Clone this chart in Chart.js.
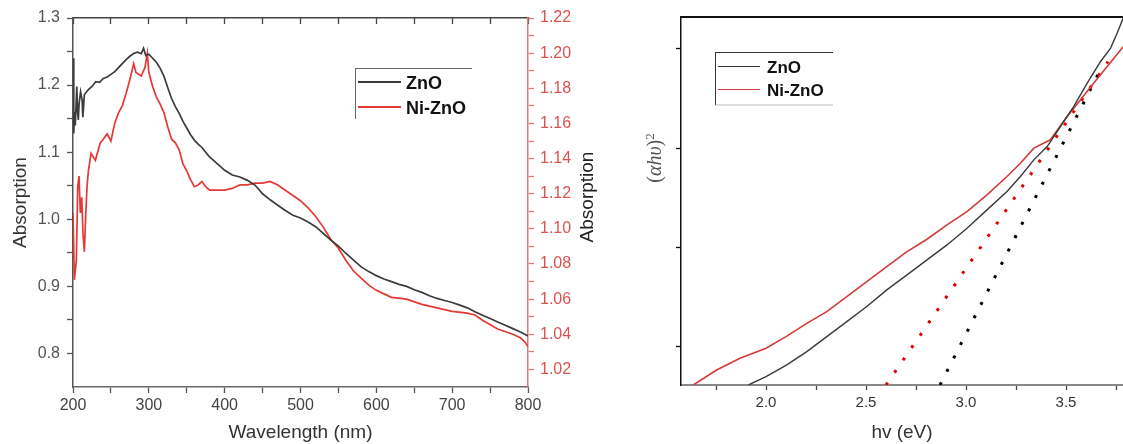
<!DOCTYPE html>
<html>
<head>
<meta charset="utf-8">
<script src="https://cdn.jsdelivr.net/npm/chart.js@4.4.1/dist/chart.umd.min.js"></script>
<style>
  html,body{margin:0;padding:0;background:#fff;width:1123px;height:444px;overflow:hidden;position:relative;font-family:'Liberation Sans',Arial,sans-serif;}
  canvas{position:absolute;top:0;}
  .ov{position:absolute;white-space:nowrap;}
  .leg{position:absolute;}
  .leg .ln{position:absolute;height:0;}
  .leg .tx{position:absolute;font-weight:bold;color:#111;transform:translateY(-50%);line-height:1;}
</style>
</head>
<body>
<canvas id="cL" width="600" height="444" style="left:0;width:600px;height:444px"></canvas>
<canvas id="cR" width="523" height="444" style="left:600px;width:523px;height:444px"></canvas>

<!-- legends -->
<div class="leg" style="left:355px;top:68px;width:116px;height:50px;border-top:1.5px solid #666;border-left:1.5px solid #666;">
  <div class="ln" style="left:2px;top:12px;width:43px;border-top:2px solid #3c3c3c"></div>
  <div class="tx" style="left:50px;top:14px;font-size:18px">ZnO</div>
  <div class="ln" style="left:2px;top:37px;width:43px;border-top:2px solid #e53935"></div>
  <div class="tx" style="left:50px;top:39px;font-size:18px">Ni-ZnO</div>
</div>
<div class="leg" style="left:715px;top:52px;width:117px;height:51px;border-top:1px solid #333;border-left:1px solid #333;border-bottom:2px solid #ddd;">
  <div class="ln" style="left:2px;top:13px;width:42px;border-top:1.3px solid #333"></div>
  <div class="tx" style="left:51px;top:14px;font-size:17px">ZnO</div>
  <div class="ln" style="left:2px;top:36px;width:42px;border-top:1.3px solid #d43a3a"></div>
  <div class="tx" style="left:51px;top:37px;font-size:17px">Ni-ZnO</div>
</div>

<div class="ov" style="left:587px;top:197px;font-size:19px;color:#222;transform:translate(-50%,-50%) rotate(-90deg);">Absorption</div>
<div class="ov" style="left:654px;top:158px;font-size:20px;color:#555;font-family:'Liberation Serif','DejaVu Serif',serif;transform:translate(-50%,-50%) rotate(-90deg);">(<i>αhυ</i>)<sup style="font-size:13px">2</sup></div>

<script>
// ---------- Left panel: absorption spectra ----------
const znoWl  = [200,201,202,203,205,206,207,208,210,212,213,215,218,220,225,230,235,240,245,250,255,260,265,270,275,280,285,290,293,296,300,305,310,315,320,325,330,335,340,345,350,355,360,365,370,375,380,385,390,395,400,410,420,430,440,450,460,470,480,490,500,510,520,530,540,550,560,570,580,590,600,610,620,630,640,650,660,670,680,690,700,710,720,730,740,750,760,770,780,790,800];
const znoAbs = [1.240,1.128,1.160,1.140,1.198,1.160,1.148,1.172,1.190,1.178,1.152,1.186,1.190,1.193,1.198,1.205,1.204,1.210,1.212,1.216,1.220,1.226,1.232,1.238,1.243,1.247,1.249,1.247,1.255,1.244,1.246,1.240,1.234,1.225,1.213,1.196,1.180,1.168,1.158,1.146,1.136,1.126,1.118,1.112,1.107,1.100,1.093,1.088,1.083,1.078,1.073,1.066,1.063,1.058,1.051,1.038,1.029,1.021,1.013,1.006,1.002,0.996,0.989,0.979,0.969,0.960,0.949,0.939,0.929,0.922,0.916,0.911,0.907,0.903,0.900,0.895,0.891,0.886,0.882,0.879,0.876,0.872,0.868,0.862,0.857,0.852,0.847,0.842,0.837,0.832,0.826];

const niWl  = [200,201.8,204.4,206.2,207.9,209.7,211.5,213.2,215,216.7,218.5,220.3,223.8,229.5,236,240,245,250,255,260,265,270,275,280,283,290,295,298,300,305,310,315,320,325,330,335,340,345,350,355,360,365,370,375,380,390,400,410,420,430,440,450,460,470,480,490,500,510,520,530,540,550,560,570,580,590,600,610,620,640,660,680,700,720,730,740,760,780,790,795,800];
const niAbs = [1.109,1.071,1.082,1.124,1.130,1.109,1.118,1.097,1.087,1.107,1.124,1.133,1.143,1.139,1.149,1.151,1.154,1.150,1.160,1.166,1.170,1.177,1.185,1.194,1.189,1.187,1.192,1.200,1.189,1.181,1.175,1.171,1.166,1.158,1.151,1.149,1.145,1.137,1.133,1.128,1.124,1.125,1.127,1.124,1.122,1.122,1.122,1.123,1.125,1.125,1.126,1.126,1.127,1.125,1.122,1.119,1.116,1.112,1.107,1.101,1.094,1.089,1.082,1.076,1.072,1.068,1.065,1.063,1.061,1.060,1.057,1.055,1.053,1.052,1.051,1.048,1.043,1.040,1.038,1.036,1.033];

const wlTicks   = [200,250,300,350,400,450,500,550,600,650,700,750,800];
const absTicksL = [0.8,0.85,0.9,0.95,1.0,1.05,1.1,1.15,1.2,1.25,1.3];
const absTicksR = [1.02,1.03,1.04,1.05,1.06,1.07,1.08,1.09,1.10,1.11,1.12,1.13,1.14,1.15,1.16,1.17,1.18,1.19,1.20,1.21,1.22];

// ---------- Right panel: Tauc plot ----------
const tZnoE = [1.912,2.0,2.104,2.204,2.304,2.404,2.504,2.604,2.705,2.805,2.905,3.005,3.105,3.205,3.272,3.339,3.406,3.472,3.539,3.606,3.673,3.723,3.756,3.786];
const tZnoV = [0.613,0.697,0.815,0.949,1.100,1.251,1.403,1.571,1.722,1.873,2.024,2.192,2.377,2.562,2.713,2.881,3.015,3.217,3.419,3.654,3.872,4.007,4.158,4.309];
const tNiE  = [1.636,1.753,1.870,2.0,2.10,2.204,2.304,2.404,2.504,2.604,2.705,2.805,2.905,3.005,3.105,3.205,3.272,3.339,3.422,3.506,3.573,3.639,3.706,3.786];
const tNiV  = [0.613,0.764,0.882,0.983,1.100,1.234,1.352,1.503,1.654,1.806,1.957,2.081,2.226,2.360,2.528,2.713,2.847,2.999,3.083,3.318,3.486,3.654,3.822,4.020];
const fitNiE  = [2.60,3.71];
const fitNiV  = [0.613,3.87];
const fitZnoE = [2.87,3.66];
const fitZnoV = [0.613,3.74];

const eTicks = [1.75,2.0,2.25,2.5,2.75,3.0,3.25,3.5,3.75];
const tTicks = [1,2,3,4];

const FAM = "'Liberation Sans', Arial, sans-serif";
const zip = (xs, ys) => xs.map((x, i) => ({x, y: ys[i]}));
const setTicks = arr => s => { s.ticks = arr.map(v => ({value: v})); };
const isMult = (v, m) => Math.abs(v / m - Math.round(v / m)) < 1e-6;

new Chart(document.getElementById('cL'), {
  type: 'line',
  data: { datasets: [
    { label: 'ZnO', data: zip(znoWl, znoAbs), yAxisID: 'y', borderColor: '#3c3c3c', borderWidth: 1.7, pointRadius: 0, tension: 0 },
    { label: 'Ni-ZnO', data: zip(niWl, niAbs), yAxisID: 'y1', borderColor: '#e53935', borderWidth: 1.7, pointRadius: 0, tension: 0 }
  ]},
  options: {
    responsive: false, animation: false, events: [],
    layout: { padding: { top: 18, left: 0, right: 0, bottom: 0 } },
    plugins: { legend: { display: false }, tooltip: { enabled: false } },
    scales: {
      x: {
        type: 'linear', min: 200, max: 800, position: 'bottom',
        afterBuildTicks: setTicks(wlTicks), afterFit: s => { s.height = 57; },
        ticks: { autoSkip: false, maxRotation: 0, padding: 3, color: '#444', font: { size: 16, family: FAM },
                 callback: v => isMult(v, 100) ? String(v) : '' },
        grid: { drawOnChartArea: false, tickLength: 6, tickColor: '#555', tickWidth: 1.3 },
        border: { display: true, color: '#666', width: 1.5 },
        title: { display: true, text: 'Wavelength (nm)', color: '#333', font: { size: 19, family: FAM }, padding: { top: 0, bottom: 0 } }
      },
      xTop: {
        type: 'linear', min: 200, max: 800, position: 'top',
        afterBuildTicks: setTicks(wlTicks), afterFit: s => { s.height = 0; },
        ticks: { display: false },
        grid: { drawOnChartArea: false, tickLength: -6, tickColor: '#444', tickWidth: 1.3 },
        border: { display: true, color: '#444', width: 1.5 }
      },
      y: {
        type: 'linear', min: 0.75, max: 1.3, position: 'left',
        afterBuildTicks: setTicks(absTicksL), afterFit: s => { s.width = 73; },
        ticks: { autoSkip: false, padding: 7, color: '#555', font: { size: 16, family: FAM },
                 callback: v => isMult(v, 0.1) ? v.toFixed(1) : '' },
        grid: { drawOnChartArea: false, tickLength: 6, tickColor: '#555', tickWidth: 1.3 },
        border: { display: true, color: '#555', width: 1.5 },
        title: { display: true, text: 'Absorption', color: '#333', font: { size: 19, family: FAM }, padding: { top: 9, bottom: 0 } }
      },
      y1: {
        type: 'linear', min: 1.01, max: 1.22, position: 'right',
        afterBuildTicks: setTicks(absTicksR), afterFit: s => { s.width = 72; },
        ticks: { autoSkip: false, padding: 6, color: '#d9534f', font: { size: 16, family: FAM },
                 callback: v => isMult(v, 0.02) ? v.toFixed(2) : '' },
        grid: { drawOnChartArea: false, tickLength: 6, tickColor: '#e07a7a', tickWidth: 1.3 },
        border: { display: true, color: '#e07a7a', width: 1.5 }
      }
    }
  }
});

new Chart(document.getElementById('cR'), {
  type: 'line',
  data: { datasets: [
    { label: 'ZnO', data: zip(tZnoE, tZnoV), borderColor: '#3a3a3a', borderWidth: 1.4, pointRadius: 0, tension: 0 },
    { label: 'Ni-ZnO', data: zip(tNiE, tNiV), borderColor: '#d43a3a', borderWidth: 1.6, pointRadius: 0, tension: 0 },
    { label: 'fitNi', data: zip(fitNiE, fitNiV), borderColor: '#e00000', borderWidth: 3, borderDash: [3, 12], pointRadius: 0 },
    { label: 'fitZnO', data: zip(fitZnoE, fitZnoV), borderColor: '#000000', borderWidth: 3, borderDash: [3, 12], pointRadius: 0 }
  ]},
  options: {
    responsive: false, animation: false, events: [],
    layout: { padding: { top: 17, left: 0, right: 0, bottom: 0 } },
    plugins: { legend: { display: false }, tooltip: { enabled: false } },
    scales: {
      x: {
        type: 'linear', min: 1.575, max: 3.785, position: 'bottom',
        afterBuildTicks: setTicks(eTicks), afterFit: s => { s.height = 59; },
        ticks: { autoSkip: false, maxRotation: 0, padding: 4, color: '#333', font: { size: 15, family: FAM },
                 callback: v => isMult(v, 0.5) ? v.toFixed(1) : '' },
        grid: { drawOnChartArea: false, tickLength: 5, tickColor: '#444', tickWidth: 1.3 },
        border: { display: true, color: '#888', width: 2 },
        title: { display: true, text: 'hv (eV)', color: '#333', font: { size: 19, family: FAM }, padding: { top: 0, bottom: 0 } }
      },
      xTop: {
        type: 'linear', min: 1.575, max: 3.785, position: 'top',
        afterFit: s => { s.height = 0; },
        ticks: { display: false },
        grid: { drawOnChartArea: false, drawTicks: false },
        border: { display: true, color: '#111', width: 2 }
      },
      y: {
        type: 'linear', min: 0.613, max: 4.32, position: 'left',
        afterBuildTicks: setTicks(tTicks), afterFit: s => { s.width = 81; },
        ticks: { display: false },
        grid: { drawOnChartArea: false, tickLength: 5, tickColor: '#111', tickWidth: 1.3 },
        border: { display: true, color: '#111', width: 1.5 }
      }
    }
  }
});
</script>
</body>
</html>
